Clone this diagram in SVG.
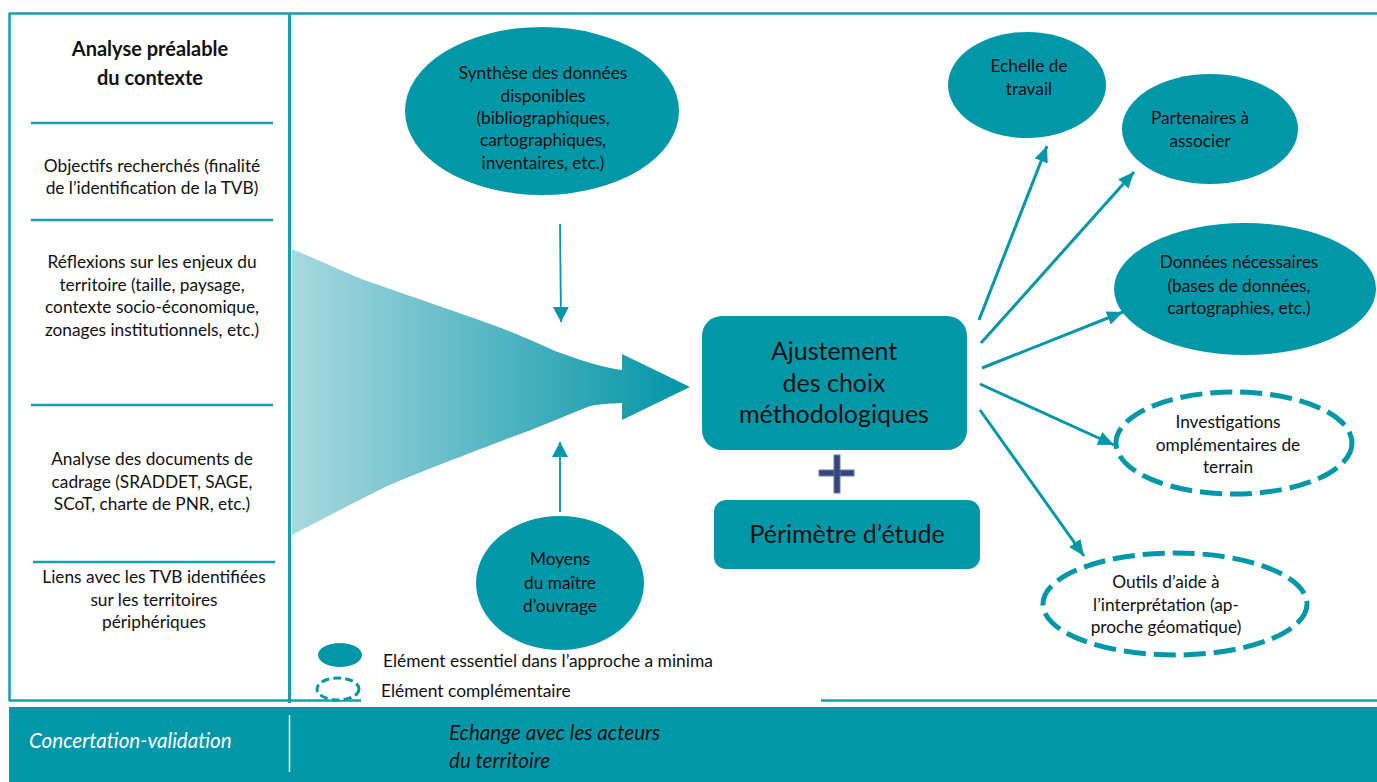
<svg xmlns="http://www.w3.org/2000/svg" width="1377" height="782" viewBox="0 0 1377 782">
<style>
.t{font-family:Lato,"Liberation Sans",sans-serif;fill:#111;text-anchor:middle}
.s15{font-size:17.3px}
.big{font-size:25px}
.lg{font-family:Lato,"Liberation Sans",sans-serif;fill:#111;font-size:17.4px}
.it{font-family:Lato,"Liberation Sans",sans-serif;font-size:20.6px;font-style:italic}
.sep{stroke:#1a9db0;stroke-width:2.5}
.fill{fill:#0097a9}
.dash{fill:#fff;stroke:#0097a9;stroke-width:5;stroke-dasharray:22 8}
.arr{stroke:#0097a9;stroke-width:3;fill:none;marker-end:url(#ah)}
.arrs{stroke:#0097a9;stroke-width:1.8;fill:none;marker-end:url(#ahs)}
</style>
<defs>
<marker id="ah" markerUnits="userSpaceOnUse" markerWidth="17" markerHeight="15" refX="16" refY="7" orient="auto">
<path d="M0,0 L16,7 L0,14 z" fill="#0097a9"/>
</marker>
<marker id="ahs" markerUnits="userSpaceOnUse" markerWidth="16" markerHeight="17" refX="15" refY="8" orient="auto">
<path d="M0,0 L15,8 L0,16 z" fill="#0097a9"/>
</marker>
<linearGradient id="g" x1="292" y1="0" x2="690" y2="0" gradientUnits="userSpaceOnUse">
<stop offset="0" stop-color="#a9d9e0"/>
<stop offset="0.85" stop-color="#1a9eae"/>
<stop offset="1" stop-color="#0097a9"/>
</linearGradient>
</defs>
<rect width="1377" height="782" fill="#fff"/>

<g id="frame">
<line class="sep" x1="9" y1="13.5" x2="1377" y2="13.5"/>
<line class="sep" x1="9.5" y1="13" x2="9.5" y2="701"/>
<line class="sep" x1="289.5" y1="13" x2="289.5" y2="703" style="stroke-width:3"/>
<line class="sep" x1="9" y1="700.5" x2="361" y2="700.5"/>
<line class="sep" x1="821" y1="700.5" x2="1377" y2="700.5"/>
</g>

<g id="left-column">
<text class="t" x="150" y="56" style="font-size:20px;font-weight:bold">Analyse préalable</text>
<text class="t" x="150" y="85" style="font-size:20px;font-weight:bold">du contexte</text>
<line class="sep" x1="31" y1="123" x2="273" y2="123"/>
<text class="t s15" x="152" y="172">Objectifs recherchés (finalité</text>
<text class="t s15" x="152" y="194">de l’identification de la TVB)</text>
<line class="sep" x1="31" y1="220" x2="273" y2="220"/>
<text class="t s15" x="152" y="268">Réflexions sur les enjeux du</text>
<text class="t s15" x="152" y="291">territoire (taille, paysage,</text>
<text class="t s15" x="152" y="313">contexte socio-économique,</text>
<text class="t s15" x="152" y="336">zonages institutionnels, etc.)</text>
<line class="sep" x1="31" y1="405" x2="273" y2="405"/>
<text class="t s15" x="152" y="465">Analyse des documents de</text>
<text class="t s15" x="152" y="488">cadrage (SRADDET, SAGE,</text>
<text class="t s15" x="152" y="510">SCoT, charte de PNR, etc.)</text>
<line class="sep" x1="33" y1="562" x2="275" y2="562"/>
<text class="t s15" x="154" y="583">Liens avec les TVB identifiées</text>
<text class="t s15" x="154" y="606">sur les territoires</text>
<text class="t s15" x="154" y="628">périphériques</text>
</g>

<g id="big-arrow">
<path d="M292,249 C330,265 360,279 367,281 C410,296 460,313 493,325 C520,335 540,344 555,351 C580,360 600,367 622,370 L622,354 L690,387 L622,420 L622,403 C600,404 592,405 585,408 C560,418 540,427 512,437 C470,453 420,472 385,487 C350,505 320,520 292,535 Z" fill="url(#g)"/>
</g>

<g id="node-synthese">
<ellipse class="fill" cx="542" cy="111" rx="137" ry="84"/>
<text class="t s15" x="543" y="79">Synthèse des données</text>
<text class="t s15" x="543" y="102">disponibles</text>
<text class="t s15" x="543" y="124">(bibliographiques,</text>
<text class="t s15" x="543" y="146">cartographiques,</text>
<text class="t s15" x="543" y="169">inventaires, etc.)</text>
</g>

<g id="node-moyens">
<ellipse class="fill" cx="560" cy="583" rx="84" ry="67"/>
<text class="t s15" x="560" y="565">Moyens</text>
<text class="t s15" x="560" y="589">du maître</text>
<text class="t s15" x="560" y="612">d’ouvrage</text>
</g>

<g id="node-ajustement">
<rect class="fill" x="702" y="316" width="265" height="134" rx="20"/>
<text class="t big" x="834" y="360">Ajustement</text>
<text class="t big" x="834" y="392">des choix</text>
<text class="t big" x="834" y="423">méthodologiques</text>
</g>

<g id="plus">
<rect x="819" y="470" width="35" height="6" fill="#34477a" stroke="#6b7db0" stroke-width="1"/>
<rect x="834" y="455" width="6" height="38" fill="#34477a" stroke="#6b7db0" stroke-width="1"/>
<rect x="834.5" y="470.5" width="5" height="5" fill="#34477a"/>
</g>

<g id="node-perimetre">
<rect class="fill" x="714" y="500" width="266" height="69" rx="12"/>
<text class="t big" x="847" y="543">Périmètre d’étude</text>
</g>

<g id="node-echelle">
<ellipse class="fill" cx="1027" cy="85" rx="79" ry="53"/>
<text class="t s15" x="1029" y="72">Echelle de</text>
<text class="t s15" x="1029" y="95">travail</text>
</g>

<g id="node-partenaires">
<ellipse class="fill" cx="1210" cy="129" rx="88" ry="55"/>
<text class="t s15" x="1200" y="124">Partenaires à</text>
<text class="t s15" x="1200" y="147">associer</text>
</g>

<g id="node-donnees">
<ellipse class="fill" cx="1245" cy="289" rx="131" ry="66"/>
<text class="t s15" x="1239" y="268">Données nécessaires</text>
<text class="t s15" x="1239" y="292">(bases de données,</text>
<text class="t s15" x="1239" y="314">cartographies, etc.)</text>
</g>

<g id="node-investigations">
<ellipse class="dash" cx="1234" cy="443" rx="118" ry="51"/>
<text class="t s15" x="1228" y="428">Investigations</text>
<text class="t s15" x="1228" y="451">omplémentaires de</text>
<text class="t s15" x="1228" y="473">terrain</text>
</g>

<g id="node-outils">
<ellipse class="dash" cx="1175" cy="604" rx="132" ry="51"/>
<text class="t s15" x="1166" y="588">Outils d’aide à</text>
<text class="t s15" x="1166" y="611">l’interprétation (ap-</text>
<text class="t s15" x="1166" y="633">proche géomatique)</text>
</g>

<g id="connectors">
<line class="arrs" x1="560" y1="224" x2="561" y2="322"/>
<line class="arrs" x1="560" y1="512" x2="560" y2="442"/>
<line class="arr" x1="979" y1="320" x2="1047" y2="146"/>
<line class="arr" x1="981" y1="343" x2="1134" y2="172"/>
<line class="arr" x1="982" y1="368" x2="1123" y2="312"/>
<line class="arr" x1="980" y1="384" x2="1114" y2="445"/>
<line class="arr" x1="980" y1="410" x2="1084" y2="556"/>
</g>

<g id="legend">
<ellipse class="fill" cx="340" cy="655" rx="22" ry="12"/>
<text class="lg" x="383" y="667">Elément essentiel dans l’approche a minima</text>
<ellipse cx="338" cy="689" rx="21" ry="11" fill="#fff" stroke="#0097a9" stroke-width="3" stroke-dasharray="8 4"/>
<text class="lg" x="381" y="697">Elément complémentaire</text>
</g>

<g id="bottom-bar">
<rect x="9" y="707" width="1368" height="75" fill="#0097a9"/>
<line x1="289.5" y1="715" x2="289.5" y2="772" stroke="#fff" stroke-width="1.5"/>
<text class="it" x="29" y="748" fill="#fff">Concertation-validation</text>
<text class="it" x="449" y="740" fill="#111">Echange avec les acteurs</text>
<text class="it" x="449" y="768" fill="#111">du territoire</text>
</g>
</svg>
